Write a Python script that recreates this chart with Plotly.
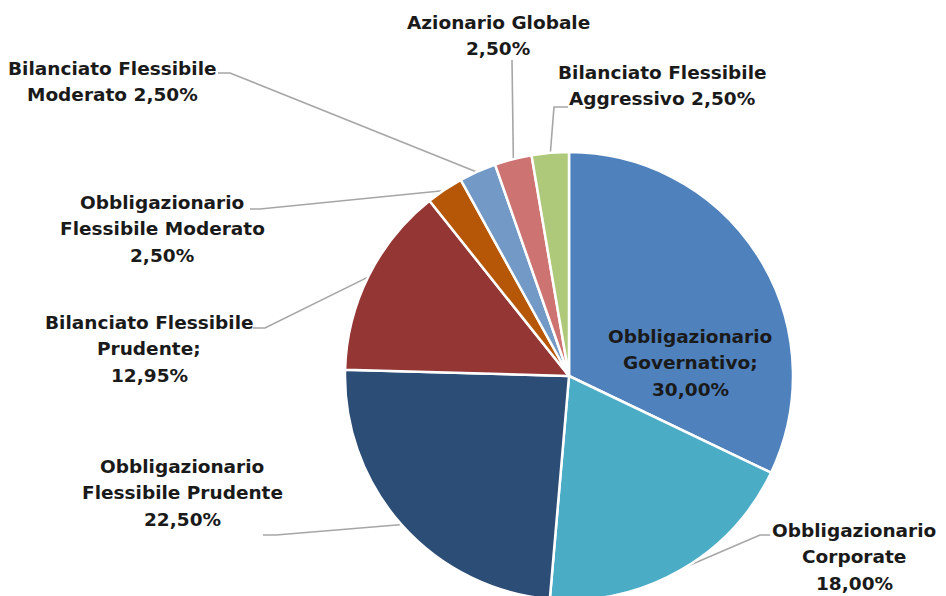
import math
import plotly.graph_objects as go

# ---- data ----
categories = [
    "Obbligazionario Governativo",
    "Obbligazionario Corporate",
    "Obbligazionario Flessibile Prudente",
    "Bilanciato Flessibile Prudente",
    "Obbligazionario Flessibile Moderato",
    "Bilanciato Flessibile Moderato",
    "Azionario Globale",
    "Bilanciato Flessibile Aggressivo",
]
values = [30.00, 18.00, 22.50, 12.95, 2.50, 2.50, 2.50, 2.50]
label_lines = [
    ["Obbligazionario", "Governativo;", "30,00%"],
    ["Obbligazionario", "Corporate", "18,00%"],
    ["Obbligazionario", "Flessibile Prudente", "22,50%"],
    ["Bilanciato Flessibile", "Prudente;", "12,95%"],
    ["Obbligazionario", "Flessibile Moderato", "2,50%"],
    ["Bilanciato Flessibile", "Moderato 2,50%"],
    ["Azionario Globale", "2,50%"],
    ["Bilanciato Flessibile", "Aggressivo 2,50%"],
]
colors = ["#4F81BD", "#4BACC6", "#2C4D75", "#943634",
          "#B65708", "#7399C6", "#CD7371", "#AFC97A"]

# ---- layout (screen pixel space; page body has an 8px margin) ----
W, H = 946, 596
OFF = 8
CX, CY, R = 569, 376, 224
LINE_H = 26.5
# label placement: (center x, first line y)
label_pos = [(690, 336), (854, 530), (182, 466), (149, 322),
             (162, 202), (112, 68), (498, 22), (662, 72)]
# leader lines: (start point at label, elbow point) or None
leaders = [None,
           ((770, 535), (760, 535)),
           ((263, 535), (276, 535)),
           ((253, 328), (265, 328)),
           ((250, 209), (260, 209)),
           ((218, 73), (230, 73)),
           ((512, 60), (512, 60)),
           ((568, 107), (554, 107))]

fig = go.Figure()

fig.add_trace(go.Pie(
    labels=categories, values=values, sort=False, direction="clockwise",
    rotation=0, textinfo="none", hoverinfo="label+percent",
    marker=dict(colors=colors, line=dict(color="white", width=2.5)),
    domain=dict(x=[(CX - R - OFF) / W, (CX + R - OFF) / W],
                y=[(H - (CY + R - OFF)) / H, (H - (CY - R - OFF)) / H]),
    showlegend=False,
))

total = sum(values)
cum = 0.0
annotations = []
for i, v in enumerate(values):
    mid = (cum + v / 2) / total * 2 * math.pi
    cum += v
    px = CX + (R - 1) * math.sin(mid)
    py = CY - (R - 1) * math.cos(mid)
    if leaders[i] is not None:
        (sx, sy), (ex, ey) = leaders[i]
        fig.add_trace(go.Scatter(
            x=[sx, ex, px], y=[sy, ey, py], mode="lines",
            line=dict(color="#A6A6A6", width=1.6), hoverinfo="skip",
            showlegend=False,
        ))
    lx, ly = label_pos[i]
    for j, t in enumerate(label_lines[i]):
        annotations.append(dict(
            x=lx, y=ly + j * LINE_H, xref="x", yref="y", text=t,
            showarrow=False, xanchor="center", yanchor="middle",
            font=dict(family="DejaVu Sans", size=18.5, color="#1A1A1A", weight="bold"),
        ))

fig.update_layout(
    width=W, height=H, margin=dict(l=0, r=0, t=0, b=0),
    paper_bgcolor="white", plot_bgcolor="white",
    xaxis=dict(range=[OFF, W + OFF], visible=False, fixedrange=True),
    yaxis=dict(range=[H + OFF, OFF], visible=False, fixedrange=True),
    annotations=annotations,
)

fig.write_html("out.html")
